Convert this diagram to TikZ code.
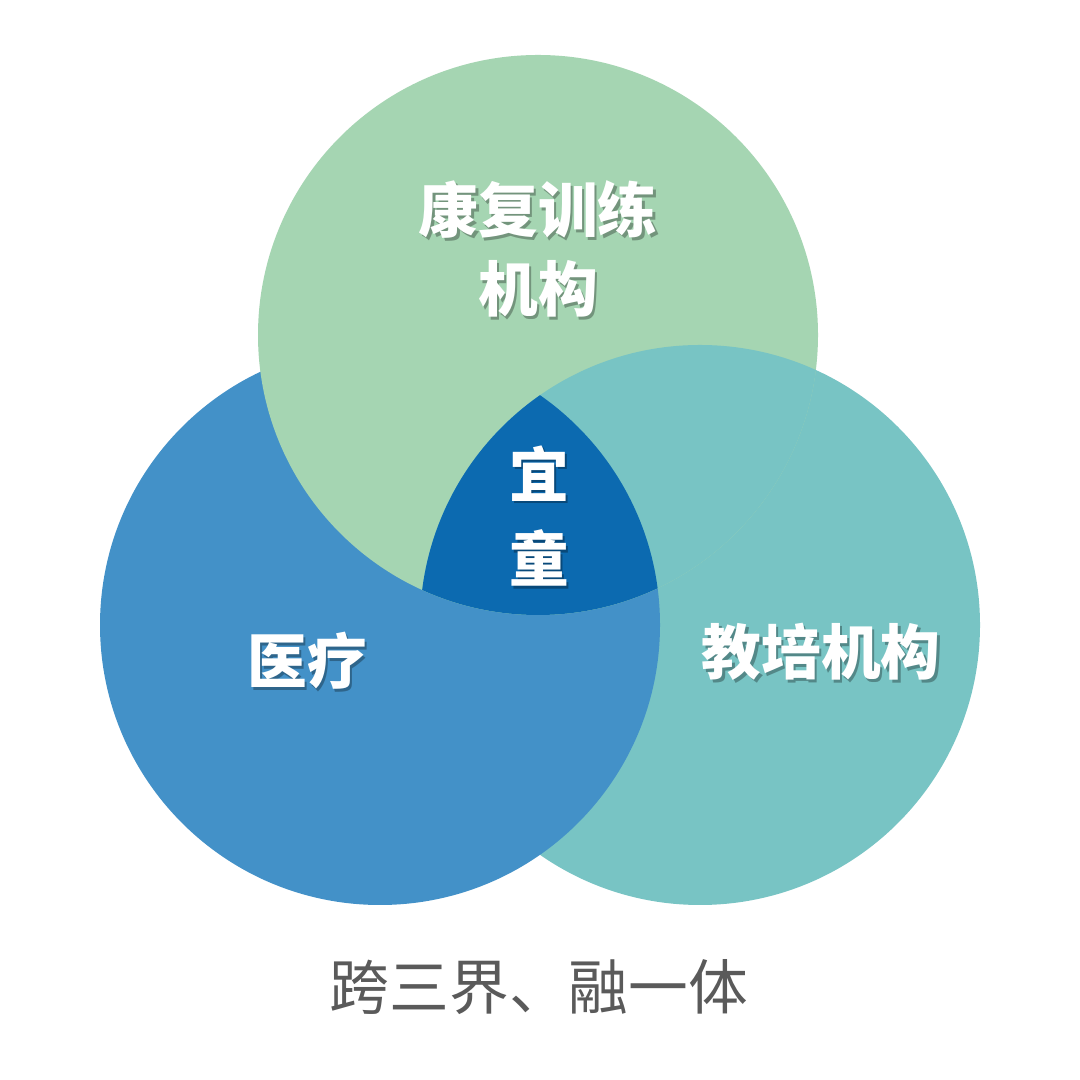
\documentclass[tikz,border=0pt]{standalone}
\usepackage{fontspec}
\usepackage{xcolor}
\newfontfamily\cjk{Noto Sans CJK SC}
\definecolor{rehabgreen}{RGB}{165,213,178}
\definecolor{medblue}{RGB}{67,145,200}
\definecolor{eduteal}{RGB}{120,196,196}
\definecolor{coredark}{RGB}{12,106,176}
\definecolor{captiongray}{RGB}{90,90,90}

\begin{document}
\begin{tikzpicture}[
    labeltext/.style={font=\cjk\bfseries\fontsize{17}{22.5}\selectfont, text=white, align=center, inner sep=0pt},
    shadowtext/.style={labeltext, text=black, opacity=0.3}
  ]
  % Canvas
  \fill[white] (0,0) rectangle (10.8,10.8);
  \useasboundingbox (0,0) rectangle (10.8,10.8);

  % Circle centres
  \coordinate (rehab) at (5.38,7.45);
  \coordinate (med) at (3.80,4.55);
  \coordinate (edu) at (7.00,4.55);

  % Circles (teal, then blue over it, then green over blue)
  \fill[eduteal] (edu) circle (2.8);
  \fill[medblue] (med) circle (2.8);
  \fill[rehabgreen] (rehab) circle (2.8);

  % Teal lies over green
  \begin{scope}
    \clip (rehab) circle (2.8);
    \fill[eduteal] (edu) circle (2.8);
  \end{scope}

  % Common centre
  \begin{scope}
    \clip (rehab) circle (2.8);
    \clip (edu) circle (2.8);
    \fill[coredark] (med) circle (2.8);
  \end{scope}

  % Labels
  \node[shadowtext] (rehabshadow) at (5.405,8.285) {康复训练\\机构};
  \node[labeltext] (rehablabel) at (5.38,8.31) {康复训练\\机构};

  \node[shadowtext, font=\cjk\bfseries\fontsize{17}{24}\selectfont] (coreshadow) at (5.415,5.615) {宜\\童};
  \node[labeltext, font=\cjk\bfseries\fontsize{17}{24}\selectfont] (corelabel) at (5.39,5.64) {宜\\童};

  \node[shadowtext] (medshadow) at (3.095,4.165) {医疗};
  \node[labeltext] (medlabel) at (3.07,4.19) {医疗};

  \node[shadowtext] (edushadow) at (8.235,4.255) {教培机构};
  \node[labeltext] (edulabel) at (8.21,4.28) {教培机构};

  % Caption
  \node[font=\cjk\fontsize{17}{20}\selectfont, text=captiongray, inner sep=0pt] (caption) at (5.39,0.93) {跨三界、融一体};
\end{tikzpicture}
\end{document}
